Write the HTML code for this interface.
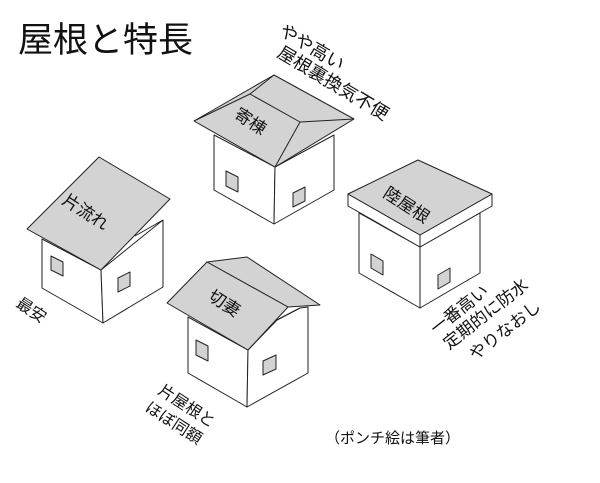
<!DOCTYPE html>
<html><head><meta charset="utf-8"><style>
html,body{margin:0;padding:0;background:#fff;}
svg{display:block;}
text{font-family:"Liberation Sans","Noto Sans CJK JP",sans-serif;fill:#111;}
</style></head><body>
<svg width="600" height="483" viewBox="0 0 600 483" xmlns="http://www.w3.org/2000/svg">
<g stroke="#222" stroke-width="1" stroke-linejoin="round">
<!-- House 1 片流れ -->
<polygon points="42,239 101,270 103,323 42,288" fill="#fff"/>
<polygon points="101,270 163,220 163,287 103,323" fill="#fff"/>
<line x1="163" y1="220" x2="135" y2="236"/>
<polygon points="99,157 170,199 101,270 27,229" fill="#d3d3d3"/>
<polygon points="51,256 63,262 63,276 51,270" fill="#d3d3d3"/>
<polygon points="118,278 130,272 130,286 118,292" fill="#d3d3d3"/>
<!-- House 2 寄棟 -->
<polygon points="214,135 275,167 274,224 214,190" fill="#fff"/>
<polygon points="275,167 334,135 334,190 274,224" fill="#fff"/>
<polygon points="194,121 274,75 354,119 275,167" fill="#d3d3d3"/>
<polyline points="194,121 250,94 274,75" fill="none"/>
<line x1="250" y1="94" x2="300" y2="122"/>
<polyline points="354,119 300,122 275,167" fill="none"/>
<polygon points="226,171 238,177 238,192 226,186" fill="#d3d3d3"/>
<polygon points="293,193 305,187 305,201 293,207" fill="#d3d3d3"/>
<!-- House 3 陸屋根 -->
<polygon points="359,213 420,247 420,308 359,273" fill="#fff"/>
<polygon points="420,247 480,213 480,273 420,308" fill="#fff"/>
<polygon points="348,194 348,206 420,247 492,206 492,194 420,235" fill="#fff"/>
<polygon points="348,194 418,160 492,194 420,235" fill="#d3d3d3"/>
<line x1="420" y1="235" x2="420" y2="247"/>
<polygon points="371,254 383,261 383,275 371,268" fill="#d3d3d3"/>
<polygon points="438,275 450,268 450,282 438,289" fill="#d3d3d3"/>
<!-- House 4 切妻 -->
<polygon points="188,317 248,350 247,407 188,373" fill="#fff"/>
<polygon points="248,350 277,320 300,308 308,307 308,373 247,407" fill="#fff"/>
<polygon points="207,262 247,257 320,305 288,307" fill="#d3d3d3"/>
<polygon points="207,262 288,307 248,350 167,303" fill="#d3d3d3"/>
<line x1="277" y1="320" x2="300" y2="308"/>
<polygon points="196,340 208,346 208,361 196,355" fill="#d3d3d3"/>
<polygon points="263,361 276,355 276,369 263,375" fill="#d3d3d3"/>
</g>
<text x="18" y="52" font-size="35">屋根と特長</text>
<text font-size="18" transform="translate(278,34) rotate(31)">やや高い</text>
<text font-size="18" transform="translate(276,56) rotate(31)">屋根裏換気不便</text>
<text font-size="17" transform="translate(233,117) rotate(33)">寄棟</text>
<text font-size="17" transform="translate(61,203) rotate(33)">片流れ</text>
<text font-size="17" transform="translate(382,196) rotate(33)">陸屋根</text>
<text font-size="17" transform="translate(207,299) rotate(33)">切妻</text>
<text font-size="16" transform="translate(15,306) rotate(33)">最安</text>
<text font-size="16" transform="translate(157,393) rotate(33)">片屋根と</text>
<text font-size="16" transform="translate(144,410) rotate(33)">ほぼ同額</text>
<text font-size="17" transform="translate(436,335) rotate(-38)">一番高い</text>
<text font-size="17" transform="translate(449,350) rotate(-38)">定期的に防水</text>
<text font-size="17" transform="translate(475,361) rotate(-38)">やりなおし</text>
<text x="325" y="443" font-size="15">（ポンチ絵は筆者）</text>
</svg>
</body></html>
